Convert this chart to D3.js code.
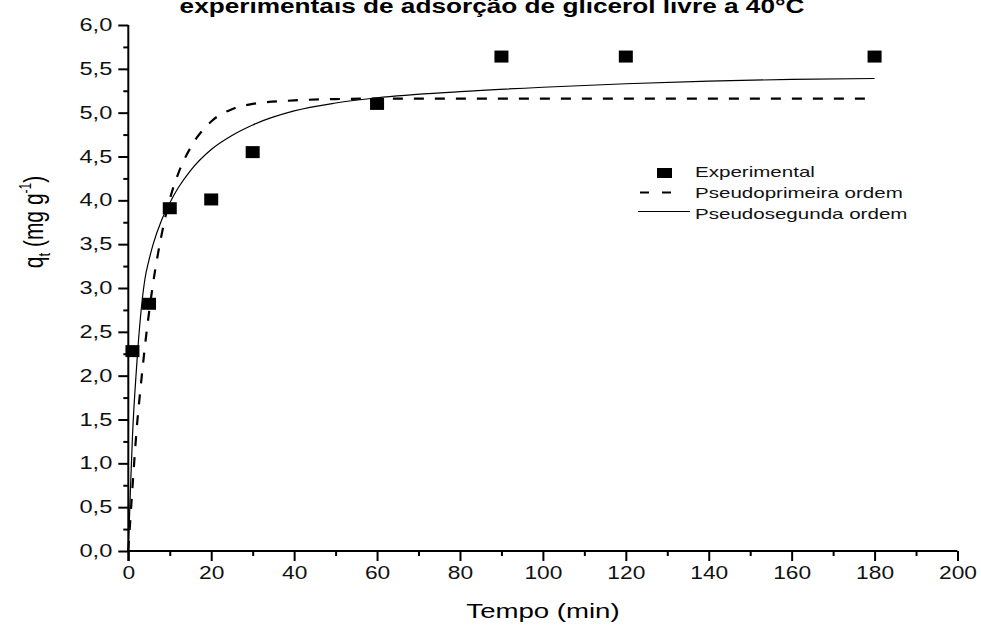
<!DOCTYPE html>
<html>
<head>
<meta charset="utf-8">
<script src="https://cdn.jsdelivr.net/npm/d3@7"></script>
<style>
  body { margin: 0; background: #fff; }
  svg { display: block; font-family: Arial, "Liberation Sans", sans-serif; }
</style>
</head>
<body>
<svg id="chart" width="981" height="630"></svg>
<script>
// Experimental adsorption points
const expTime = [1, 5, 10, 20, 30, 60, 90, 120, 180];
const expQ    = [2.28, 2.82, 3.91, 4.01, 4.55, 5.10, 5.64, 5.64, 5.64];

// Pseudo-first-order fitted curve
const pfoTime = [0, 1, 2, 3, 4, 5, 6, 8, 10, 12, 15, 20, 25, 30, 40, 50, 60, 80, 100, 120, 140, 160, 180];
const pfoQ    = [0, 0.72, 1.38, 1.88, 2.33, 2.72, 3.06, 3.60, 4.01, 4.30, 4.60, 4.90, 5.04, 5.10, 5.14, 5.155, 5.16, 5.16, 5.16, 5.16, 5.16, 5.16, 5.16];

// Pseudo-second-order fitted curve
const psoTime = [0, 0.5, 1, 2, 3, 4, 5, 6, 8, 10, 12, 15, 20, 25, 30, 40, 50, 60, 80, 100, 120, 140, 160, 180];
const psoQ    = [0, 0.68, 1.30, 2.10, 2.70, 3.10, 3.32, 3.50, 3.77, 3.97, 4.14, 4.34, 4.58, 4.74, 4.86, 5.02, 5.11, 5.17, 5.24, 5.29, 5.33, 5.36, 5.38, 5.39];

// Axis ticks
const xTickValues  = [0, 20, 40, 60, 80, 100, 120, 140, 160, 180, 200];
const xMinorValues = [10, 30, 50, 70, 90, 110, 130, 150, 170, 190];
const yTickValues  = [0, 0.5, 1, 1.5, 2, 2.5, 3, 3.5, 4, 4.5, 5, 5.5, 6];
const yMinorValues = [0.25, 0.75, 1.25, 1.75, 2.25, 2.75, 3.25, 3.75, 4.25, 4.75, 5.25, 5.75];

const legendLabels = ["Experimental", "Pseudoprimeira ordem", "Pseudosegunda ordem"];
const titleText = "experimentais de adsorção de glicerol livre a 40°C";
const xTitle = "Tempo (min)";

const svg = d3.select("#chart");

const x = d3.scaleLinear().domain([0, 200]).range([128.3, 957.5]);
const y = d3.scaleLinear().domain([0, 6]).range([551, 25]);

const ptBR = d3.formatLocale({ decimal: ",", thousands: ".", grouping: [3], currency: ["", ""] });
const fmtY = ptBR.format(".1f");

// wide-set lettering
function stretch(sel, sx, origin) {
  sel.style("transform-box", "fill-box")
     .style("transform-origin", origin)
     .style("transform", `scaleX(${sx})`);
}

// Title (runs off the top edge)
svg.append("text")
  .attr("x", 492).attr("y", 13)
  .attr("text-anchor", "middle")
  .attr("font-weight", "bold")
  .attr("font-size", 20)
  .text(titleText)
  .call(stretch, 1.31, "50% 50%");

// X axis
const gx = svg.append("g").attr("transform", `translate(0,${y(0)})`);
gx.call(d3.axisBottom(x).tickValues(xTickValues).tickSize(10).tickPadding(6).tickFormat(d3.format("d")));
gx.append("g").call(d3.axisBottom(x).tickValues(xMinorValues).tickSize(5).tickFormat(""))
  .select(".domain").remove();
gx.selectAll(".domain").attr("stroke", "#000").attr("stroke-width", 2).attr("d", `M${x(0)},0H${x(200)}`);
gx.selectAll(".tick line").attr("stroke", "#000").attr("stroke-width", 2);
gx.selectAll(".tick text")
  .attr("font-size", 17.5).attr("fill", "#111").attr("font-family", "Arial, 'Liberation Sans', sans-serif")
  .call(stretch, 1.3, "50% 50%");

// Y axis
const gy = svg.append("g").attr("transform", `translate(${x(0)},0)`);
gy.call(d3.axisLeft(y).tickValues(yTickValues).tickSize(10).tickPadding(6).tickFormat(fmtY));
gy.append("g").call(d3.axisLeft(y).tickValues(yMinorValues).tickSize(5).tickFormat(""))
  .select(".domain").remove();
gy.selectAll(".domain").attr("stroke", "#000").attr("stroke-width", 2).attr("d", `M0,${y(6)}V${y(0) + 10}`);
gy.selectAll(".tick line").attr("stroke", "#000").attr("stroke-width", 2);
gy.selectAll(".tick text")
  .attr("font-size", 17.5).attr("fill", "#111").attr("font-family", "Arial, 'Liberation Sans', sans-serif")
  .call(stretch, 1.35, "100% 50%");

// Axis titles
svg.append("text")
  .attr("x", 543).attr("y", 618)
  .attr("text-anchor", "middle")
  .attr("font-size", 20)
  .text(xTitle)
  .call(stretch, 1.38, "50% 50%");

const yt = svg.append("text")
  .attr("transform", "translate(43,222) rotate(-90) scale(1,1.3)")
  .attr("text-anchor", "middle")
  .attr("font-size", 21);
yt.append("tspan").text("q");
yt.append("tspan").attr("font-size", 13).attr("dy", 5).text("t");
yt.append("tspan").attr("dy", -5).text(" (mg g");
yt.append("tspan").attr("font-size", 12).attr("dy", -9).text("-1");
yt.append("tspan").attr("dy", 9).text(")");

// Fitted curves
const line = d3.line().x(d => x(d[0])).y(d => y(d[1])).curve(d3.curveMonotoneX);

svg.append("path")
  .datum(d3.zip(pfoTime, pfoQ))
  .attr("fill", "none").attr("stroke", "#000").attr("stroke-width", 2.2)
  .attr("stroke-dasharray", "10,11")
  .attr("d", line);

svg.append("path")
  .datum(d3.zip(psoTime, psoQ))
  .attr("fill", "none").attr("stroke", "#000").attr("stroke-width", 1.2)
  .attr("d", line);

// Experimental markers
const mw = 14, mh = 12;
svg.append("g").selectAll("rect")
  .data(d3.zip(expTime, expQ))
  .join("rect")
  .attr("x", d => x(d[0]) - mw / 2)
  .attr("y", d => y(d[1]) - mh / 2)
  .attr("width", mw).attr("height", mh)
  .attr("fill", "#000");

// Legend
const lg = svg.append("g");
lg.append("rect").attr("x", 657).attr("y", 168).attr("width", 15).attr("height", 10).attr("fill", "#000");
lg.append("line").attr("x1", 640).attr("x2", 672).attr("y1", 192.5).attr("y2", 192.5)
  .attr("stroke", "#000").attr("stroke-width", 2.2).attr("stroke-dasharray", "9,13");
lg.append("line").attr("x1", 638).attr("x2", 690).attr("y1", 211.5).attr("y2", 211.5)
  .attr("stroke", "#000").attr("stroke-width", 1.2);
lg.selectAll("text.lab")
  .data(legendLabels)
  .join("text")
  .attr("class", "lab")
  .attr("x", 695)
  .attr("y", (d, i) => 177.5 + i * 20.8)
  .attr("font-size", 15)
  .attr("fill", "#111")
  .text(d => d)
  .call(stretch, 1.37, "0% 50%");
</script>
</body>
</html>
